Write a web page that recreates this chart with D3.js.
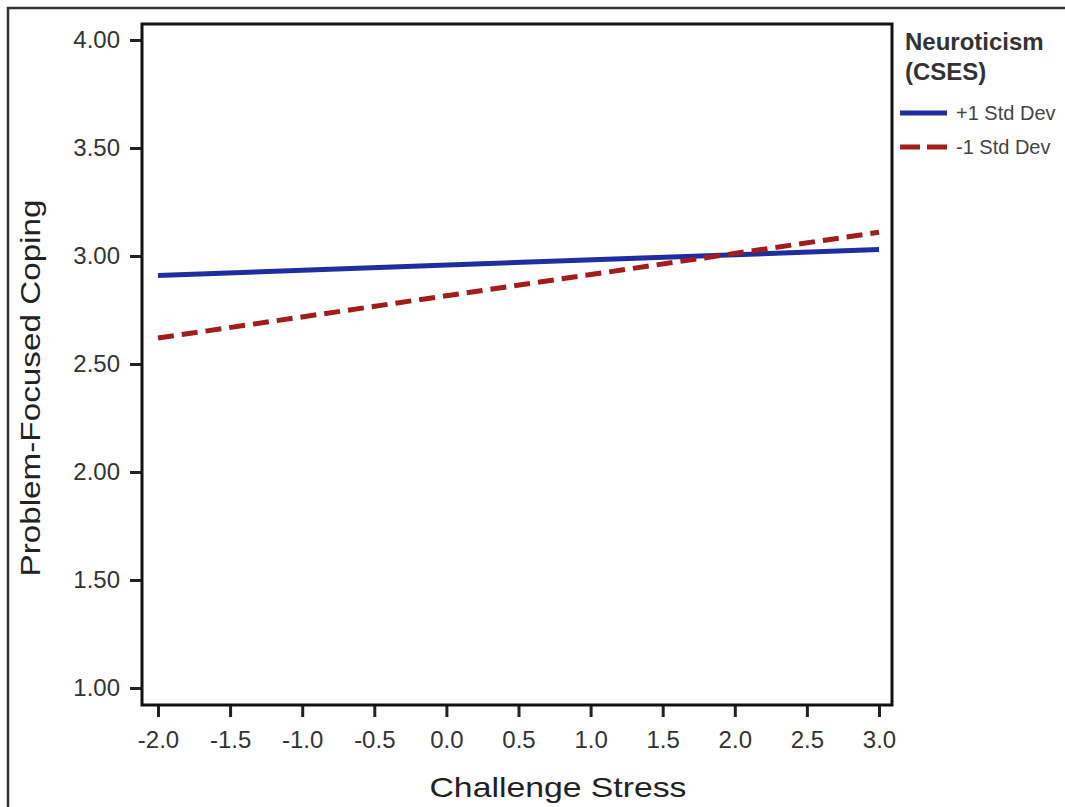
<!DOCTYPE html>
<html>
<head>
<meta charset="utf-8" />
<script src="https://cdn.jsdelivr.net/npm/d3@7"></script>
<style>
  body { margin: 0; background: #fff; }
  text { font-family: "Liberation Sans", Arial, sans-serif; }
</style>
</head>
<body>
<script>
// data
var stressX = [-2.0, 3.0];
var highNeuro = [2.91, 3.03];   // +1 Std Dev
var lowNeuro = [2.62, 3.11];    // -1 Std Dev
var xTicks = [-2.0, -1.5, -1.0, -0.5, 0.0, 0.5, 1.0, 1.5, 2.0, 2.5, 3.0];
var yTicks = [1.0, 1.5, 2.0, 2.5, 3.0, 3.5, 4.0];
var seriesNames = ["+1 Std Dev", "-1 Std Dev"];
var seriesColors = ["#1f2d9e", "#a31c1c"];

var w = 1065, h = 807;
var frame = {left: 142, top: 24, right: 892, bottom: 705};

var svg = d3.select("body").append("svg")
  .attr("width", w).attr("height", h);

// outer border of the picture
svg.append("rect")
  .attr("x", 8).attr("y", 8)
  .attr("width", w + 20).attr("height", h + 20)
  .attr("fill", "none").attr("stroke", "#333").attr("stroke-width", 2.5);

var x = d3.scaleLinear().domain([-2, 3]).range([158, 879]);
var y = d3.scaleLinear().domain([1, 4]).range([688, 40]);

// axes
var xAxis = svg.append("g")
  .attr("transform", "translate(0," + frame.bottom + ")")
  .call(d3.axisBottom(x).tickValues(xTicks).tickFormat(d3.format(".1f")).tickSize(12).tickPadding(14).tickSizeOuter(0));
var yAxis = svg.append("g")
  .attr("transform", "translate(" + frame.left + ",0)")
  .call(d3.axisLeft(y).tickValues(yTicks).tickFormat(d3.format(".2f")).tickSize(12).tickPadding(10).tickSizeOuter(0));

[xAxis, yAxis].forEach(function(a) {
  a.select(".domain").remove();
  a.selectAll(".tick line").attr("stroke", "#222").attr("stroke-width", 3);
  a.selectAll(".tick text")
    .attr("fill", "#333")
    .style("font-size", "24px");
});
xAxis.selectAll(".tick text").text(function(d) { return d3.format(".1f")(d).replace("\u2212", "-"); });

// plot frame
svg.append("rect")
  .attr("x", frame.left).attr("y", frame.top)
  .attr("width", frame.right - frame.left).attr("height", frame.bottom - frame.top)
  .attr("fill", "none").attr("stroke", "#111").attr("stroke-width", 3);

// lines
var line = d3.line()
  .x(function(d, i) { return x(stressX[i]); })
  .y(function(d) { return y(d); });

svg.append("path").datum(highNeuro)
  .attr("d", line)
  .attr("fill", "none").attr("stroke", seriesColors[0]).attr("stroke-width", 5);

svg.append("path").datum(lowNeuro)
  .attr("d", line)
  .attr("fill", "none").attr("stroke", seriesColors[1]).attr("stroke-width", 5)
  .attr("stroke-dasharray", "16,8");

// axis titles
svg.append("text")
  .attr("x", 558).attr("y", 797)
  .attr("text-anchor", "middle")
  .attr("fill", "#222")
  .style("font-size", "28px")
  .attr("textLength", 257).attr("lengthAdjust", "spacingAndGlyphs")
  .text("Challenge Stress");

svg.append("text")
  .attr("transform", "translate(40,388) rotate(-90)")
  .attr("text-anchor", "middle")
  .attr("fill", "#222")
  .style("font-size", "28px")
  .attr("textLength", 377).attr("lengthAdjust", "spacingAndGlyphs")
  .text("Problem-Focused Coping");

// legend
var legend = svg.append("g");
legend.append("text")
  .attr("x", 905).attr("y", 50)
  .attr("fill", "#333").style("font-size", "24px").style("font-weight", "bold")
  .text("Neuroticism");
legend.append("text")
  .attr("x", 905).attr("y", 80)
  .attr("fill", "#333").style("font-size", "24px").style("font-weight", "bold")
  .text("(CSES)");

var entries = legend.selectAll("g.entry")
  .data(seriesNames)
  .enter().append("g")
  .attr("class", "entry")
  .attr("transform", function(d, i) { return "translate(0," + (113 + i * 34) + ")"; });

entries.append("line")
  .attr("x1", 900).attr("x2", 947)
  .attr("stroke", function(d, i) { return seriesColors[i]; })
  .attr("stroke-width", 5)
  .attr("stroke-dasharray", function(d, i) { return i == 1 ? "20,7" : null; });

entries.append("text")
  .attr("x", 956).attr("dy", "0.35em")
  .attr("fill", "#444").style("font-size", "20px")
  .text(function(d) { return d; });
</script>
</body>
</html>
